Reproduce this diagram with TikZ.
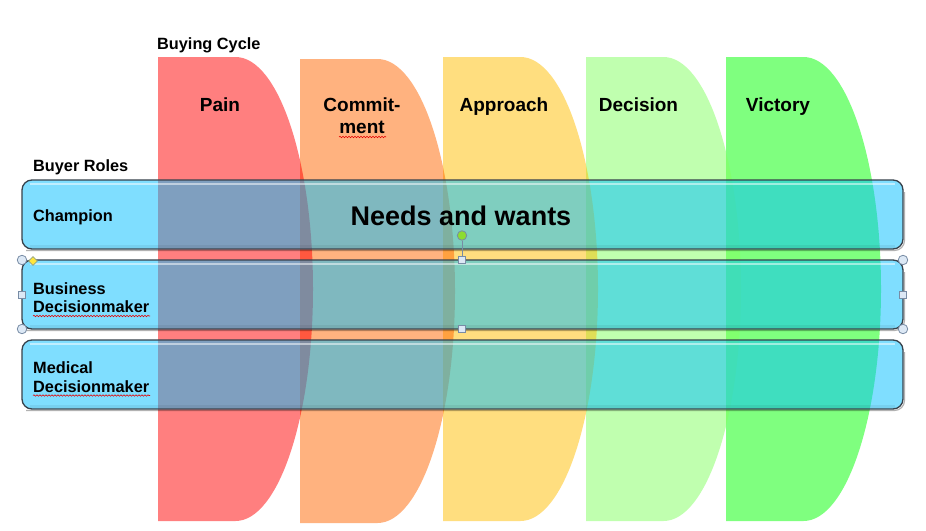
\documentclass[tikz,border=0pt]{standalone}
\usepackage{fontspec}
\setmainfont{Liberation Sans}
\usetikzlibrary{decorations.pathmorphing,shapes.geometric}
\definecolor{cPain}{RGB}{255,0,0}
\definecolor{cCommit}{RGB}{255,102,0}
\definecolor{cApproach}{RGB}{255,191,0}
\definecolor{cDecision}{RGB}{131,255,97}
\definecolor{cVictory}{RGB}{0,255,0}
\definecolor{cBand}{RGB}{0,191,255}
\definecolor{cBorder}{RGB}{55,65,75}
\definecolor{cHandle}{RGB}{220,232,245}
\definecolor{cHandleLine}{RGB}{120,140,165}
\definecolor{cRot}{RGB}{140,220,50}
\definecolor{cDia}{RGB}{255,230,60}
\newcommand\dshape[4]{%
  \pgfmathsetmacro\dcx{#1+77.5}%
  \pgfmathsetmacro\dkx{#1+77.5+42.8}%
  \pgfmathsetmacro\drr{#1+155}%
  \pgfmathsetmacro\dcy{(#2+#3)/2}%
  \pgfmathsetmacro\dka{(#2+#3)/2-0.5523*(#3-#2)/2}%
  \pgfmathsetmacro\dkb{(#2+#3)/2+0.5523*(#3-#2)/2}%
  \fill[stagefill=#4] (#1,#2) -- (\dcx,#2) .. controls (\dkx,#2) and (\drr,\dka) .. (\drr,\dcy)
     .. controls (\drr,\dkb) and (\dkx,#3) .. (\dcx,#3) -- (#1,#3) -- cycle;}
\newcommand\roleband[2]{%
  \draw[black, opacity=0.3, line width=1.2pt, rounded corners=10pt] (904.5,#1+12) -- (904.5,#2+1.5) -- (26,#2+1.5);
  \draw[rounded corners=10pt, fill=cBand, fill opacity=0.5, draw=cBorder, line width=1.3pt] (22,#1) rectangle (903,#2);
  \draw[white, opacity=0.5, line width=2pt] (30,#1+4) -- (895,#1+4);
  \draw[black, opacity=0.06, line width=3pt] (30,#2-3) -- (895,#2-3);}
\tikzset{
  stagefill/.style={fill=#1, fill opacity=0.5},
  small/.style={font=\bfseries\fontsize{16.3}{19}\selectfont, anchor=base west, inner sep=0pt},
  stagelbl/.style={font=\bfseries\fontsize{19}{22}\selectfont, anchor=base, inner sep=0pt},
  bigtitle/.style={font=\bfseries\fontsize{27}{30}\selectfont, anchor=base, inner sep=0pt},
  wavy/.style={draw=red!90!black, line width=0.6pt, decorate, decoration={snake, amplitude=0.7pt, segment length=3pt}},
  hcirc/.style={circle, minimum size=9.5pt, inner sep=0pt, draw=cHandleLine, fill=cHandle, line width=0.8pt},
  hsq/.style={rectangle, minimum size=7.5pt, inner sep=0pt, draw=cHandleLine, fill=cHandle, line width=0.8pt},
  hrot/.style={circle, minimum size=9.5pt, inner sep=0pt, draw=cHandleLine, fill=cRot, line width=0.8pt},
  hdia/.style={diamond, minimum size=9pt, inner sep=0pt, draw=cHandleLine!80!yellow, fill=cDia, line width=0.6pt},
}
\begin{document}
\begin{tikzpicture}[x=1pt,y=-1pt]
\useasboundingbox (0,0) rectangle (926,530);
\fill[white] (0,0) rectangle (926,530);
% stages (later ones underneath)
\dshape{726}{57}{521}{cVictory}
\dshape{586}{57}{521}{cDecision}
\dshape{443}{57}{521}{cApproach}
\dshape{300}{59}{523}{cCommit}
\dshape{158}{57}{521}{cPain}
% stage labels
\node[small] (bc) at (157,49.5) {Buying Cycle};
\node[stagelbl] (pain) at (220,111) {Pain};
\node[stagelbl] (com1) at (362,111.5) {Commit-};
\node[stagelbl] (com2) at (362,133.5) {ment};
\node[stagelbl] (appr) at (504,111) {Approach};
\node[stagelbl] (deci) at (638.5,111) {Decision};
\node[stagelbl] (vict) at (778,111) {Victory};
\draw[wavy] (339,137) -- (386,137);
% role bands
\node[small] (br) at (33,171.7) {Buyer Roles};
\roleband{180}{249}
\roleband{260}{329}
\roleband{340}{409}
\node[small] (champ) at (33,221.7) {Champion};
\node[small] (bus1) at (33,294) {Business};
\node[small] (bus2) at (33,312.7) {Decisionmaker};
\node[small] (med1) at (33,373.3) {Medical};
\node[small] (med2) at (33,392.3) {Decisionmaker};
\draw[wavy] (33,316) -- (150,316);
\draw[wavy] (33,395.5) -- (150,395.5);
\node[bigtitle] (needs) at (461,225) {Needs and wants};
% selection handles
\node[hrot] (rot) at (462,235.5) {};
\node[hsq] (hT) at (462,260) {};
\node[hsq] (hB) at (462,329) {};
\draw[cHandleLine, line width=1pt] (rot) -- (hT);
\node[hcirc] (hTL) at (22,260) {};
\node[hcirc] (hTR) at (903,260) {};
\node[hcirc] (hBL) at (22,329) {};
\node[hcirc] (hBR) at (903,329) {};
\node[hsq] (hL) at (22,295) {};
\node[hsq] (hR) at (903,295) {};
\node[hdia] (hD) at (33,261) {};
\end{tikzpicture}
\end{document}
